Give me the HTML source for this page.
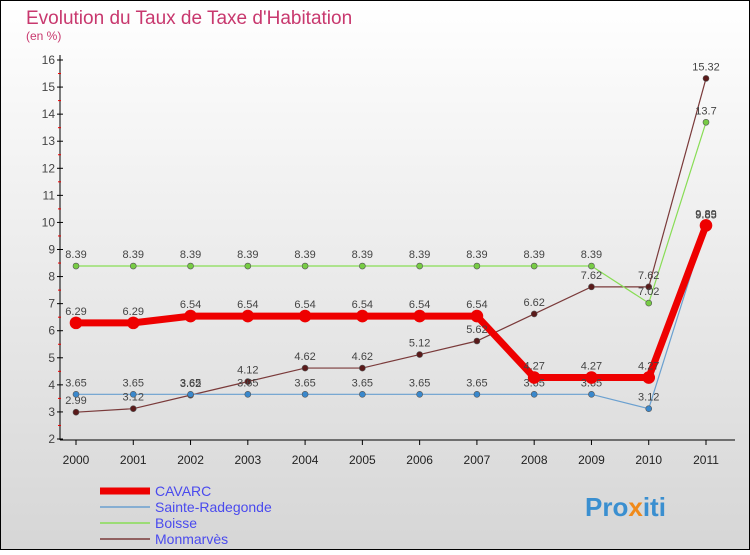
<!DOCTYPE html>
<html><head><meta charset="utf-8"><style>
html,body{margin:0;padding:0}
body{width:750px;height:550px;overflow:hidden;font-family:"Liberation Sans",sans-serif}
</style></head><body>
<svg width="750" height="550" xmlns="http://www.w3.org/2000/svg">
<defs><linearGradient id="bg" x1="0" y1="0" x2="0" y2="1"><stop offset="0" stop-color="#ffffff"/><stop offset="1" stop-color="#d6d6d6"/></linearGradient></defs>
<rect x="0.5" y="0.5" width="749" height="549" fill="url(#bg)" stroke="#000"/>
<text x="26" y="24" font-size="19" fill="#c8386e">Evolution du Taux de Taxe d'Habitation</text>
<text x="26" y="40" font-size="12" fill="#c8386e">(en %)</text>
<g id="axes"></g>
<g id="series"></g>
<g id="legend"></g>
<text x="585" y="516" font-size="26" font-weight="bold" fill="#3a8fd0">Pro<tspan fill="#f08a1a">x</tspan>iti</text>
</svg>
<script>
const years=[2000,2001,2002,2003,2004,2005,2006,2007,2008,2009,2010,2011];
const yTicks=[2,3,4,5,6,7,8,9,10,11,12,13,14,15,16];
const names=["CAVARC","Sainte-Radegonde","Boisse","Monmarvès"];
const cavarc=[6.29,6.29,6.54,6.54,6.54,6.54,6.54,6.54,4.27,4.27,4.27,9.89];
const sainte=[3.65,3.65,3.65,3.65,3.65,3.65,3.65,3.65,3.65,3.65,3.12,9.85];
const boisse=[8.39,8.39,8.39,8.39,8.39,8.39,8.39,8.39,8.39,8.39,7.02,13.7];
const monmarves=[2.99,3.12,3.62,4.12,4.62,4.62,5.12,5.62,6.62,7.62,7.62,15.32];
const NS="http://www.w3.org/2000/svg";
const X=i=>76+i*(630/11);
const Y=v=>439-(v-2)*(379/14);
function mk(tag,attrs,parent){const e=document.createElementNS(NS,tag);for(const k in attrs)e.setAttribute(k,attrs[k]);parent.appendChild(e);return e;}
const ax=document.getElementById('axes');
let l=mk('line',{x1:60,y1:55,x2:60,y2:440,stroke:'#000'},ax);


l=mk('line',{x1:60,y1:440,x2:735,y2:440,stroke:'#000'},ax);


yTicks.forEach(v=>{
 const y=Y(v);
 mk('line',{x1:57,y1:y,x2:63,y2:y,stroke:'#000'},ax);
 if(v<16) mk('line',{x1:58,y1:y-379/28,x2:61,y2:y-379/28,stroke:'#e00'},ax);
 const t=mk('text',{x:55,y:y+4,'font-size':12,fill:'#444','text-anchor':'end'},ax);
 t.textContent=v;
 
 
});
years.forEach((yr,i)=>{
 mk('line',{x1:X(i),y1:440,x2:X(i),y2:445,stroke:'#000'},ax);
 const t=mk('text',{x:X(i),y:464,'font-size':12,fill:'#222','text-anchor':'middle'},ax);
 t.textContent=yr;
 
 
});
const sg=document.getElementById('series');
const cfg=[
 {d:monmarves,c:'#7a3a3a',w:1.2,r:3,f:'#5a1a1a',n:'monmarves'},
 {d:boisse,c:'#88dd55',w:1.2,r:3,f:'#77cc44',n:'boisse'},
 {d:sainte,c:'#6aa0d0',w:1.2,r:3,f:'#3a88cc',n:'sainte-radegonde'},
 {d:cavarc,c:'#ee0000',w:7,r:6,f:'#ee0000',n:'cavarc'}
];
cfg.forEach(s=>{
 const p=mk('polyline',{points:s.d.map((v,i)=>X(i)+','+Y(v)).join(' '),fill:'none',stroke:s.c,'stroke-width':s.w},sg);
 
 
});
cfg.forEach(s=>{
 s.d.forEach((v,i)=>{
  const c=mk('circle',{cx:X(i),cy:Y(v),r:s.r,fill:s.f,stroke:s.n==='cavarc'?'#ee0000':'#555','stroke-width':0.6},sg);
  
  
  const t=mk('text',{x:X(i),y:Y(v)-8,'font-size':11,fill:'#444','text-anchor':'middle'},sg);
  t.textContent=v;
  
  
 });
});
const lg=document.getElementById('legend');
const lc=[{c:'#ee0000',w:7},{c:'#6aa0d0',w:1.5},{c:'#88dd55',w:1.5},{c:'#7a3a3a',w:1.5}];
names.forEach((n,i)=>{
 const y=491+i*16;
 const ln=mk('line',{x1:100,y1:y,x2:150,y2:y,stroke:lc[i].c,'stroke-width':lc[i].w},lg);
 
 
 const t=mk('text',{x:155,y:y+5,'font-size':14,fill:'#4a4aee'},lg);
 t.textContent=n;
 
 
});
</script>
</body></html>
